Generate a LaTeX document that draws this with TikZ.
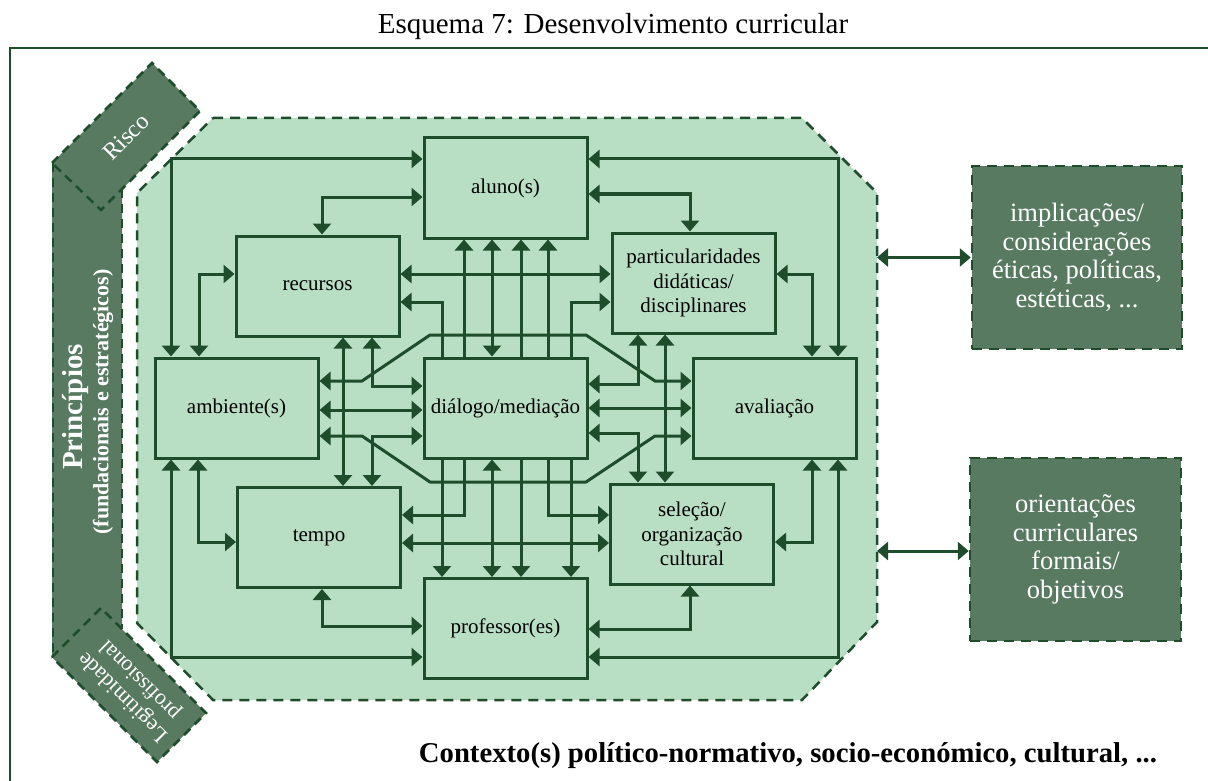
\documentclass[tikz,border=0pt]{standalone}
\usepackage{fontspec}
\setmainfont{Liberation Serif}
\usetikzlibrary{arrows.meta}
\definecolor{dk}{RGB}{31,77,44}
\definecolor{mid}{RGB}{88,122,97}
\definecolor{lt}{RGB}{184,223,196}
\pgfdeclarelayer{back}
\pgfdeclarelayer{wires}
\pgfsetlayers{back,wires,main}
\begin{document}
\begin{tikzpicture}[x=1pt,y=-1pt,
  >={Triangle[length=11pt,width=18pt]},
  box/.style={draw=dk, line width=3pt, fill=lt, minimum width=163pt, minimum height=100pt,
    inner sep=2pt, align=center, font=\fontsize{21}{24.5}\selectfont, text=black},
  darkbox/.style={draw=dk, line width=2.5pt, dash pattern=on 10pt off 7pt, fill=mid,
    text=white, align=center, font=\fontsize{26.5}{28.5}\selectfont},
  bandline/.style={draw=dk, line width=2.5pt, dash pattern=on 9pt off 6pt},
  conn/.style={draw=dk, line width=3pt},
  both/.style={conn, <->},
  wlabel/.style={text=white, inner sep=0pt},
]
\useasboundingbox (0,0) rectangle (1208,781);

% title and frame
\node[font=\fontsize{29}{32}\selectfont] (title) at (613,27) {Esquema 7: Desenvolvimento curricular};
\draw[dk, line width=2.5pt] (10,781) -- (10,48) -- (1208,48);

\begin{pgfonlayer}{back}
  % principles band
  \fill[mid] (52,163) -- (152,63) -- (200,111) -- (122,189) -- (122,629) -- (206,713)
     -- (157,762) -- (52,657) -- cycle;
  \draw[bandline] (52,163) -- (152,63) -- (200,111) -- (101,210) -- cycle;
  \draw[bandline] (52,657) -- (101,608) -- (206,713) -- (157,762) -- cycle;
  \draw[bandline] (53,163) -- (53,657);
  \draw[bandline] (122,189) -- (122,629);
  % octagon
  \filldraw[fill=lt, draw=dk, line width=2.5pt, dash pattern=on 10pt off 7pt]
    (213,118) -- (802,118) -- (877,193) -- (877,622) -- (802,700) -- (213,700)
    -- (137,623) -- (137,193) -- cycle;
\end{pgfonlayer}
\coordinate (octR) at (877,0);

% band labels
\node[wlabel, rotate=45, font=\fontsize{24}{26}\selectfont] (risco) at (126,137) {Risco};
\node[wlabel, rotate=135, align=center, font=\fontsize{22}{24}\selectfont] (legit) at (132,688) {Legitimidade\\profissional};
\node[wlabel, rotate=90, font=\fontsize{29}{30}\selectfont\bfseries] (princ) at (76,407) {Princípios};
\node[wlabel, rotate=90, font=\fontsize{22}{24}\selectfont\bfseries] (princsub) at (103,402) {(fundacionais e estratégicos)};

% boxes
\node[box] (al) at (505.5,188) {aluno(s)};
\node[box] (pa) at (693.5,283) {particularidades\\didáticas/\\disciplinares};
\node[box] (av) at (774.5,408) {avaliação};
\node[box] (se) at (692,534) {seleção/\\organização\\cultural};
\node[box] (pr) at (505.5,628.5) {professor(es)};
\node[box] (te) at (319,537.5) {tempo};
\node[box] (am) at (236.5,408) {ambiente(s)};
\node[box] (re) at (317.5,286) {recursos};
\node[box] (di) at (505.5,408) {diálogo/mediação};

\node[darkbox, minimum width=210pt, minimum height=183pt] (imp) at (1077,257.5)
  {implicações/\\considerações\\éticas, políticas,\\estéticas, ...};
\node[darkbox, minimum width=211pt, minimum height=183pt] (ori) at (1075.5,549.5)
  {orientações\\curriculares\\formais/\\objetivos};

\node[font=\fontsize{28.7}{31}\selectfont\bfseries] (ctx) at (788,756)
  {Contexto(s) político-normativo, socio-económico, cultural, ...};

\begin{pgfonlayer}{wires}
  % outer loops
  \draw[both] (al.west |- 0,159) -| (am.north -| 171,0);
  \draw[both] (al.west |- 0,197) -| (re.north -| 322,0);
  \draw[both] (al.east |- 0,159) -| (av.north -| 838,0);
  \draw[both] (al.east |- 0,194) -| (pa.north -| 690,0);
  \draw[both] (re.west |- 0,274) -| (am.north -| 199,0);
  \draw[both] (pa.east |- 0,274) -| (av.north -| 812,0);
  \draw[both] (re.east |- 0,274) -- (pa.west |- 0,274);
  % through lines
  \draw[both] (re.east |- 0,302) -| (pr.north -| 442,0);
  \draw[both] (pa.west |- 0,302) -| (pr.north -| 571,0);
  \draw[both] (al.south -| 464,0) |- (te.east |- 0,515);
  \draw[both] (al.south -| 548,0) |- (se.west |- 0,515);
  \draw[both] (al.south -| 492,0) -- (di.north -| 492,0);
  \draw[both] (di.south -| 492,0) -- (pr.north -| 492,0);
  \draw[both] (al.south -| 521,0) -- (pr.north -| 521,0);
  \draw[both] (re.south -| 343,0) -- (te.north -| 343,0);
  \draw[both] (pa.south -| 665,0) -- (se.north -| 665,0);
  \draw[both] (re.south -| 372,0) |- (di.west |- 0,386);
  \draw[both] (te.north -| 372,0) |- (di.west |- 0,436);
  \draw[both] (pa.south -| 638,0) |- (di.east |- 0,384);
  \draw[both] (se.north -| 638,0) |- (di.east |- 0,433);
  \draw[both] (am.east |- 0,410) -- (di.west |- 0,410);
  \draw[both] (di.east) -- (av.west);
  \draw[both] (am.east |- 0,381) -- (362,381) -- (430,335) -- (586,335) -- (655,381) -- (av.west |- 0,381);
  \draw[both] (am.east |- 0,436) -- (362,436) -- (430,482) -- (586,482) -- (655,436) -- (av.west |- 0,436);
  % lower loops
  \draw[both] (am.south -| 198,0) |- (te.west |- 0,542);
  \draw[both] (am.south -| 171,0) |- (pr.west |- 0,657);
  \draw[both] (te.south -| 322,0) |- (pr.west |- 0,626);
  \draw[both] (av.south -| 812,0) |- (se.east |- 0,542);
  \draw[both] (av.south -| 838,0) |- (pr.east |- 0,657);
  \draw[both] (se.south -| 690,0) |- (pr.east |- 0,629);
  \draw[both] (te.east |- 0,543) -- (se.west |- 0,543);
  % outside
  \draw[both] (octR |- imp.west) -- (imp.west);
  \draw[both] (octR |- 0,551) -- (ori.west |- 0,551);
\end{pgfonlayer}
\end{tikzpicture}
\end{document}
